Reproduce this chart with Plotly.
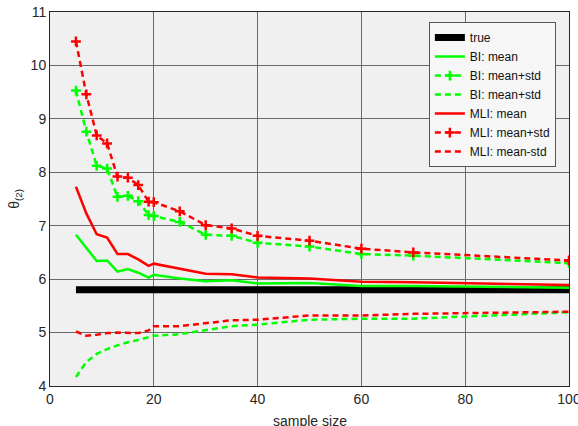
import plotly.graph_objects as go

sample_size = [5, 7, 9, 11, 13, 15, 17, 19, 20, 25, 30, 35, 40, 50, 60, 70, 100]
true_val = [5.8] * len(sample_size)
bi_mean = [6.83, 6.58, 6.34, 6.35, 6.14, 6.19, 6.12, 6.03, 6.08, 6.01, 5.96, 5.98, 5.92, 5.93, 5.87, 5.87, 5.84]
bi_plus = [9.53, 8.76, 8.12, 8.07, 7.54, 7.56, 7.46, 7.20, 7.18, 7.07, 6.83, 6.81, 6.68, 6.61, 6.47, 6.44, 6.30]
bi_minus = [4.17, 4.45, 4.60, 4.69, 4.76, 4.82, 4.86, 4.91, 4.94, 4.97, 5.04, 5.12, 5.15, 5.24, 5.26, 5.26, 5.38]
mli_mean = [7.73, 7.23, 6.84, 6.78, 6.47, 6.47, 6.37, 6.25, 6.29, 6.19, 6.10, 6.09, 6.03, 6.01, 5.95, 5.94, 5.89]
mli_plus = [10.45, 9.46, 8.69, 8.54, 7.92, 7.90, 7.76, 7.45, 7.44, 7.27, 7.01, 6.95, 6.81, 6.72, 6.57, 6.50, 6.35]
mli_minus = [5.02, 4.94, 4.96, 4.99, 5.00, 4.99, 4.99, 5.04, 5.12, 5.12, 5.18, 5.23, 5.24, 5.32, 5.32, 5.35, 5.39]

x_ticks = [0, 20, 40, 60, 80, 100]
y_ticks = [4, 5, 6, 7, 8, 9, 10, 11]

GREEN = "#00ff00"
RED = "#ff0000"
DASH = "6px,4px"
FONT = "Liberation Sans, Arial, sans-serif"

fig = go.Figure()
fig.add_trace(go.Scatter(x=sample_size, y=true_val, mode="lines", name="true",
                         line=dict(color="black", width=7)))
fig.add_trace(go.Scatter(x=sample_size, y=bi_mean, mode="lines", name="BI: mean",
                         line=dict(color=GREEN, width=2.5)))
fig.add_trace(go.Scatter(x=sample_size, y=bi_plus, mode="lines+markers", name="BI: mean+std",
                         line=dict(color=GREEN, width=2.5, dash=DASH),
                         marker=dict(symbol="cross-thin", size=7,
                                     line=dict(color=GREEN, width=2.5))))
fig.add_trace(go.Scatter(x=sample_size, y=bi_minus, mode="lines", name="BI: mean+std",
                         line=dict(color=GREEN, width=2.5, dash=DASH)))
fig.add_trace(go.Scatter(x=sample_size, y=mli_mean, mode="lines", name="MLI: mean",
                         line=dict(color=RED, width=2.5)))
fig.add_trace(go.Scatter(x=sample_size, y=mli_plus, mode="lines+markers", name="MLI: mean+std",
                         line=dict(color=RED, width=2.5, dash=DASH),
                         marker=dict(symbol="cross-thin", size=7,
                                     line=dict(color=RED, width=2.5))))
fig.add_trace(go.Scatter(x=sample_size, y=mli_minus, mode="lines", name="MLI: mean-std",
                         line=dict(color=RED, width=2.5, dash=DASH)))

axis_common = dict(showline=True, mirror=True, linecolor="#262626", linewidth=1,
                   showgrid=True, gridcolor="#6a6a6a", gridwidth=1, zeroline=False,
                   ticks="", ticklabeloverflow="allow", automargin=False,
                   tickfont=dict(family=FONT, size=14, color="#262626"))

fig.update_xaxes(range=[0, 100], tickvals=x_ticks, **axis_common)
fig.update_yaxes(range=[4, 11], tickvals=y_ticks, **axis_common)

fig.update_layout(
    width=578, height=426,
    margin=dict(l=50, r=9, t=12, b=40),
    paper_bgcolor="white", plot_bgcolor="#f0f0f0",
    font=dict(family=FONT, size=12, color="#262626"),
    showlegend=True,
    legend=dict(x=0.73, y=0.973, xanchor="left", yanchor="top",
                bgcolor="#f7f7f7", bordercolor="#555555", borderwidth=1,
                font=dict(family=FONT, size=12, color="#111111"),
                tracegroupgap=0, itemwidth=30),
    annotations=[
        dict(text="sample size", xref="paper", yref="paper", x=0.5, y=-0.094,
             xanchor="center", yanchor="middle", showarrow=False,
             font=dict(family=FONT, size=14, color="#262626")),
        dict(text="θ<sub>(2)</sub>", xref="paper", yref="paper", x=-0.068, y=0.5,
             xanchor="center", yanchor="middle", showarrow=False, textangle=-90,
             font=dict(family=FONT, size=14, color="#262626")),
    ],
)

fig.write_html("out.html")
